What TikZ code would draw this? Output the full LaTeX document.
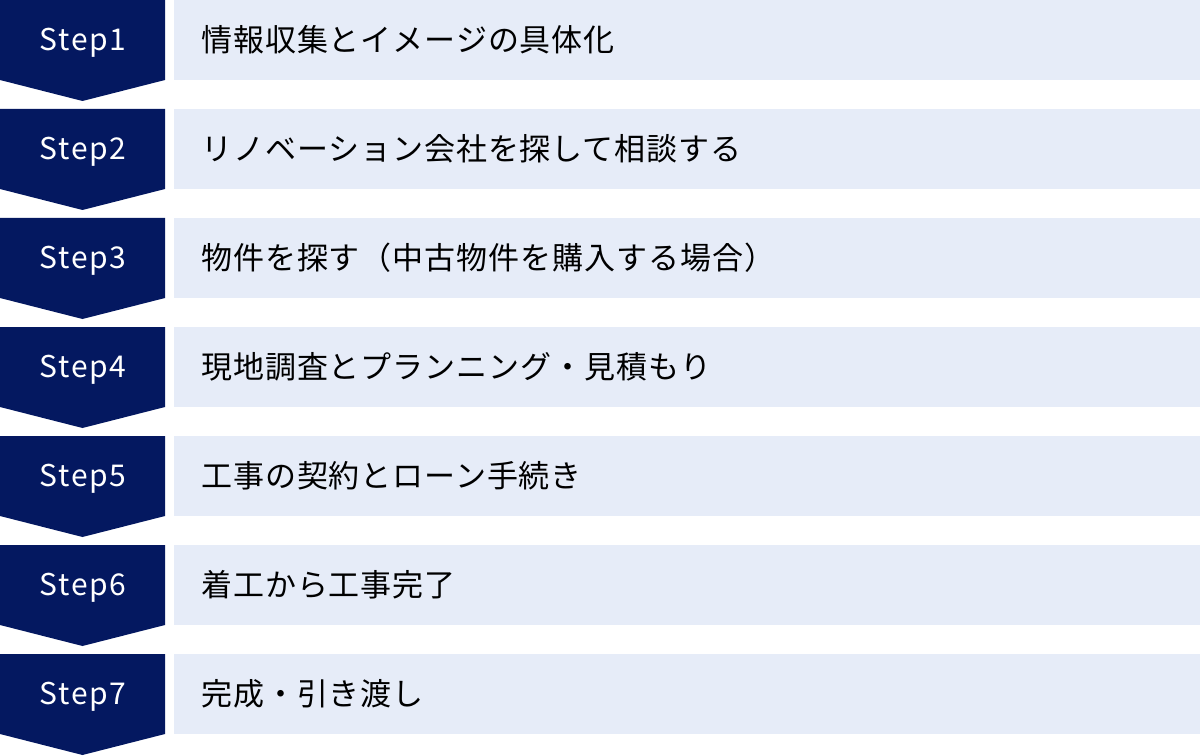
\documentclass[tikz,border=0pt]{standalone}
\usepackage{fontspec}
\newfontfamily\jpfont[LetterSpace=3]{Noto Sans CJK JP}
\newfontfamily\stepfont[LetterSpace=6]{Noto Sans CJK JP}
\usetikzlibrary{positioning}
\definecolor{stepnavy}{RGB}{4,24,96}
\definecolor{rowblue}{RGB}{230,236,248}

\begin{document}
\begin{tikzpicture}[x=0.75pt, y=-0.75pt,
    steplabel/.style={text=white, inner sep=0pt, font=\stepfont\fontsize{22.5}{27}\selectfont},
    rowtext/.style={anchor=west, inner sep=0pt, font=\jpfont\fontsize{23.25}{28}\selectfont}]
  \useasboundingbox (0, 0) rectangle (1200, 756);
  \foreach \task [count=\i] in {情報収集とイメージの具体化,
      リノベーション会社を探して相談する,
      物件を探す（中古物件を購入する場合）,
      現地調査とプランニング・見積もり,
      工事の契約とローン手続き,
      着工から工事完了,
      完成・引き渡し}{
    \pgfmathsetmacro{\top}{(\i-1)*109}
    % chevron and row band
    \fill[stepnavy] (0, \top) -- (165, \top) -- (165, \top+80)
      -- (82.5, \top+101) -- (0, \top+80) -- cycle;
    \fill[rowblue] (174, \top) rectangle (1200, \top+80);
    \node[steplabel] (step\i) at (83, \top+43) {Step\i};
    \node[rowtext] (task\i) at (201, \top+40) {\task};
  }
\end{tikzpicture}
\end{document}
